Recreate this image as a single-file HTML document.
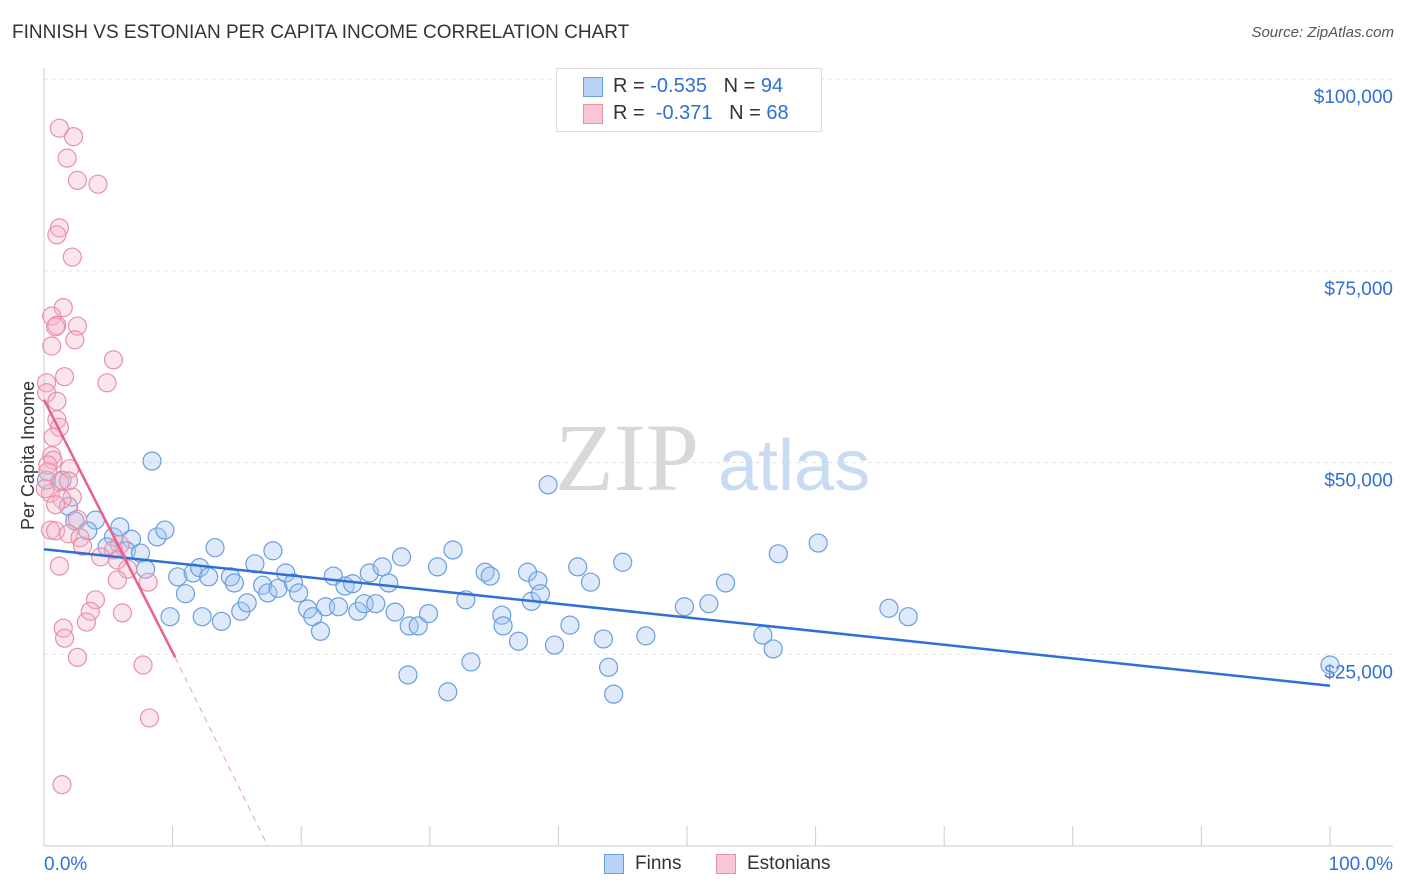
<!DOCTYPE html>
<html><head><meta charset="utf-8"><style>
body{margin:0;background:#fff;font-family:"Liberation Sans",sans-serif;}
#wrap{position:relative;width:1406px;height:892px;overflow:hidden;}
.t{position:absolute;white-space:nowrap;}
</style></head><body>
<div id="wrap">
<div class="t" style="left:12px;top:22px;font-size:19px;color:#333;">FINNISH VS ESTONIAN PER CAPITA INCOME CORRELATION CHART</div>
<div class="t" style="right:12px;top:24px;font-size:15px;color:#555;font-style:italic;">Source: ZipAtlas.com</div>
<div class="t" style="left:-46px;top:445px;font-size:18px;color:#333;transform:rotate(-90deg);">Per Capita Income</div>
<svg id="svg" width="1406" height="892" style="position:absolute;left:0;top:0"></svg>
<div style="position:absolute;left:556px;top:68px;width:264px;height:62px;border:1px solid #ddd;background:#fff;">
 <div style="position:absolute;left:26px;top:8px;width:18px;height:18px;background:#b9d3f5;border:1px solid #6a9ee0;"></div>
 <div class="t" style="left:56px;top:6px;font-size:20px;color:#333;">R = <span style="color:#2f6fd6">-0.535</span> &nbsp; N = <span style="color:#2f6fd6">94</span></div>
 <div style="position:absolute;left:26px;top:35px;width:18px;height:18px;background:#f8c6d4;border:1px solid #e890aa;"></div>
 <div class="t" style="left:56px;top:33px;font-size:20px;color:#333;">R = &nbsp;<span style="color:#2f6fd6">-0.371</span> &nbsp; N = <span style="color:#2f6fd6">68</span></div>
</div>
<div style="position:absolute;left:604px;top:853px;">
 <div style="position:absolute;left:0;top:1px;width:18px;height:18px;background:#b9d3f5;border:1px solid #6a9ee0;"></div>
 <div class="t" style="left:31px;top:0;font-size:19px;color:#333;">Finns</div>
 <div style="position:absolute;left:112px;top:1px;width:18px;height:18px;background:#f8c6d4;border:1px solid #e890aa;"></div>
 <div class="t" style="left:143px;top:0;font-size:19px;color:#333;">Estonians</div>
</div>
</div>
<script>
const yTicks=[25000,50000,75000,100000];
const yTickLabels=["$25,000","$50,000","$75,000","$100,000"];
const xTicks=[0,10,20,30,40,50,60,70,80,90,100];
const finnsX=[8.4,39.2,0.2,1.4,1.9,2.4,4.0,3.4,5.4,5.9,6.8,6.4,4.9,7.5,8.8,9.4,7.9,10.4,11.0,9.8,11.6,12.1,12.8,13.3,12.3,13.8,14.5,14.8,15.3,15.8,16.4,17.0,17.4,17.8,18.2,18.8,19.4,19.8,20.5,20.9,21.5,21.9,22.5,22.9,23.4,24.0,24.4,24.9,25.3,25.8,26.3,26.8,27.3,27.8,28.4,29.1,29.9,28.3,30.6,31.4,31.8,32.8,33.2,34.3,34.7,35.6,35.7,36.9,37.6,37.9,38.4,38.6,39.7,40.9,41.5,42.5,43.5,43.9,44.3,45.0,46.8,49.8,51.7,53.0,55.9,56.7,57.1,60.2,65.7,67.2,100];
const finnsY=[50200,47100,47700,47700,44300,42400,42500,41100,40300,41600,40000,38500,39000,38200,40300,41200,36100,35100,32900,29900,35600,36300,35100,38900,29900,29300,35100,34300,30600,31700,36800,34000,33000,38500,33600,35600,34300,33000,30900,29900,28000,31200,35200,31200,33900,34200,30600,31600,35600,31600,36400,34300,30500,37700,28700,28700,30300,22300,36400,20100,38600,32100,24000,35700,35200,30100,28700,26700,35700,31900,34600,32900,26200,28800,36400,34400,27000,23300,19800,37000,27400,31200,31600,34300,27500,25700,38100,39500,31000,29900,23600];
const estX=[1.2,2.3,1.8,2.6,4.2,1.2,1.0,2.2,1.5,0.6,1.0,2.6,0.9,2.4,0.6,5.4,1.6,4.9,0.2,0.2,1.0,1.0,1.2,0.7,0.6,0.7,0.3,2.0,1.2,1.9,0.5,2.2,1.4,0.9,2.6,0.5,0.9,1.9,2.8,3.0,5.9,5.4,4.4,5.7,1.2,6.5,5.7,8.1,4.0,3.6,6.1,3.3,1.5,1.6,2.6,7.7,8.2,1.4,0.1,0.3];
const estY=[93600,92500,89700,86800,86300,80600,79700,76800,70200,69100,67900,67800,67700,66000,65200,63400,61200,60400,60400,59100,58000,55600,54600,53300,50900,50300,49700,49200,47500,47600,46000,45500,45200,44500,42600,41200,41100,40700,40200,39100,39300,38600,37700,37300,36500,36100,34700,34400,32100,30600,30400,29200,28400,27100,24600,23600,16700,8000,46600,48800];
const finnTrendX=[0,100], finnTrendY=[38700,20900];
const estTrendX=[0,10.2], estTrendY=[58200,24600];
const estDashX=[10.2,17.4], estDashY=[24600,0];
const X=v=>44+v*12.86, Y=v=>846-v/130.4;
const svg=document.getElementById('svg');const NS='http://www.w3.org/2000/svg';
function mk(t,a,name){const e=document.createElementNS(NS,t);for(const k in a)e.setAttribute(k,a[k]);


svg.appendChild(e);return e;}
yTicks.forEach((v,i)=>{mk('line',{x1:44,x2:1393,y1:Y(v),y2:Y(v),stroke:'#e2e2e2','stroke-dasharray':'4,4'},'gridline');
const t=mk('text',{x:1393,y:Y(v)+24,'text-anchor':'end','font-size':19,fill:'#2f6fd6','font-family':'Liberation Sans'},'y-tick-label');t.textContent=yTickLabels[i];});
mk('line',{x1:44,x2:44,y1:68,y2:846,stroke:'#ccc'},'y-axis');
mk('line',{x1:44,x2:1393,y1:846,y2:846,stroke:'#ccc'},'x-axis');
xTicks.forEach(v=>mk('line',{x1:X(v),x2:X(v),y1:826,y2:846,stroke:'#ccc'},'x-tick'));
let t=mk('text',{x:44,y:870,'font-size':19,fill:'#2f6fd6','font-family':'Liberation Sans'},'x-min-label');t.textContent='0.0%';
t=mk('text',{x:1393,y:870,'text-anchor':'end','font-size':19,fill:'#2f6fd6','font-family':'Liberation Sans'},'x-max-label');t.textContent='100.0%';
t=mk('text',{x:555,y:490,'font-size':96,fill:'#d8d8d8','font-family':'Liberation Serif'},'watermark-zip');t.textContent='ZIP';
t=mk('text',{x:718,y:490,'font-size':72,fill:'#c8dbf3','font-family':'Liberation Sans'},'watermark-atlas');t.textContent='atlas';
finnsX.forEach((v,i)=>mk('circle',{cx:X(v),cy:Y(finnsY[i]),r:9,fill:'rgba(160,196,240,0.35)',stroke:'#6a9ee0','stroke-width':1.2},'finn-point'));
estX.forEach((v,i)=>mk('circle',{cx:X(v),cy:Y(estY[i]),r:9,fill:'rgba(244,180,200,0.35)',stroke:'#e890aa','stroke-width':1.2},'estonian-point'));
mk('line',{x1:X(finnTrendX[0]),y1:Y(finnTrendY[0]),x2:X(finnTrendX[1]),y2:Y(finnTrendY[1]),stroke:'#2f6fd6','stroke-width':2.5},'finn-trend-line');
mk('line',{x1:X(estTrendX[0]),y1:Y(estTrendY[0]),x2:X(estTrendX[1]),y2:Y(estTrendY[1]),stroke:'#e8628c','stroke-width':2.5},'estonian-trend-line');
mk('line',{x1:X(estDashX[0]),y1:Y(estDashY[0]),x2:X(estDashX[1]),y2:Y(estDashY[1]),stroke:'#e8a0b8','stroke-width':1,'stroke-dasharray':'6,5'},'estonian-trend-extension');
</script>
</body></html>
